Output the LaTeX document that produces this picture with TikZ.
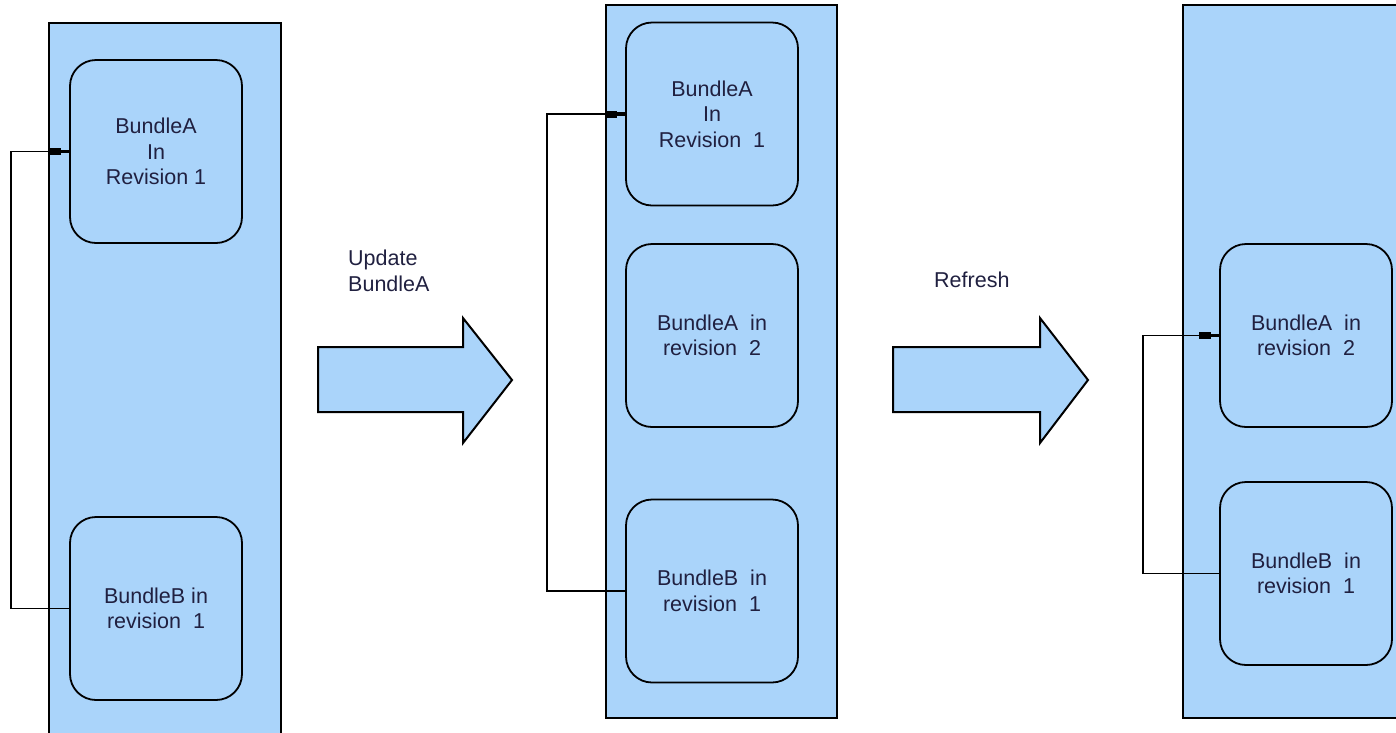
\documentclass[tikz,border=0pt]{standalone}
\usepackage{fontspec}
\setmainfont{Liberation Sans}
\usetikzlibrary{arrows.meta}
\definecolor{paneblue}{HTML}{AAD4FA}
\definecolor{inktext}{HTML}{202040}
\tikzset{
  panel/.style={draw=black, line width=2.4pt, fill=paneblue},
  bundle/.style={draw=black, line width=1.8pt, fill=paneblue, rounded corners=26pt,
    minimum width=172pt, minimum height=183pt, inner sep=0pt, align=center,
    text=inktext, font=\fontsize{21.5}{25.5}\selectfont},
  link/.style={draw=black, line width=1.5pt,
    -{Rectangle[length=12pt,width=7pt]Rectangle[length=8pt,width=3.5pt]}},
  blockarrow/.style={draw=black, line width=2pt, fill=paneblue, line join=miter},
  caption/.style={text=inktext, align=left, inner sep=0pt,
    font=\fontsize{21.5}{25.5}\selectfont}
}
\begin{document}
\begin{tikzpicture}[x=1pt, y=-1pt]
  \path[use as bounding box, clip] (0,0) rectangle (1396,732);

  % state before the update
  \draw[panel] (49,23) rectangle (281,745);
  \node[bundle] (a1) at (156,151.5) {BundleA\\In\\Revision 1};
  \node[bundle] (b1) at (156,608.5) {BundleB in\\revision\ \ 1};
  \draw[link] (b1.west) -- ++(-58,0) |- (a1.west);

  % update arrow
  \draw[blockarrow] (318,347) -- (463,347) -- (463,318) -- (512,380)
    -- (463,443) -- (463,412) -- (318,412) -- cycle;
  \node[caption, anchor=north west] (upd) at (348,250) {Update\\BundleA};

  % state after the update, before refresh
  \draw[panel] (606,5) rectangle (837,718);
  \node[bundle] (a1u) at (712,114) {BundleA\\In\\Revision\ \ 1};
  \node[bundle] (a2u) at (712,335.5) {BundleA\ \ in\\revision\ \ 2};
  \node[bundle] (b1u) at (712,591) {BundleB\ \ in\\revision\ \ 1};
  \draw[link] (b1u.west) -- ++(-78,0) |- (a1u.west);

  % refresh arrow
  \draw[blockarrow] (893,347) -- (1040,347) -- (1040,318) -- (1088,380)
    -- (1040,443) -- (1040,412) -- (893,412) -- cycle;
  \node[caption, anchor=west] (ref) at (934,280) {Refresh};

  % state after refresh
  \draw[panel] (1183,5) rectangle (1420,718);
  \node[bundle] (a2r) at (1306,335.5) {BundleA\ \ in\\revision\ \ 2};
  \node[bundle] (b1r) at (1306,573.5) {BundleB\ \ in\\revision\ \ 1};
  \draw[link] (b1r.west) -- ++(-76,0) |- (a2r.west);
\end{tikzpicture}
\end{document}
